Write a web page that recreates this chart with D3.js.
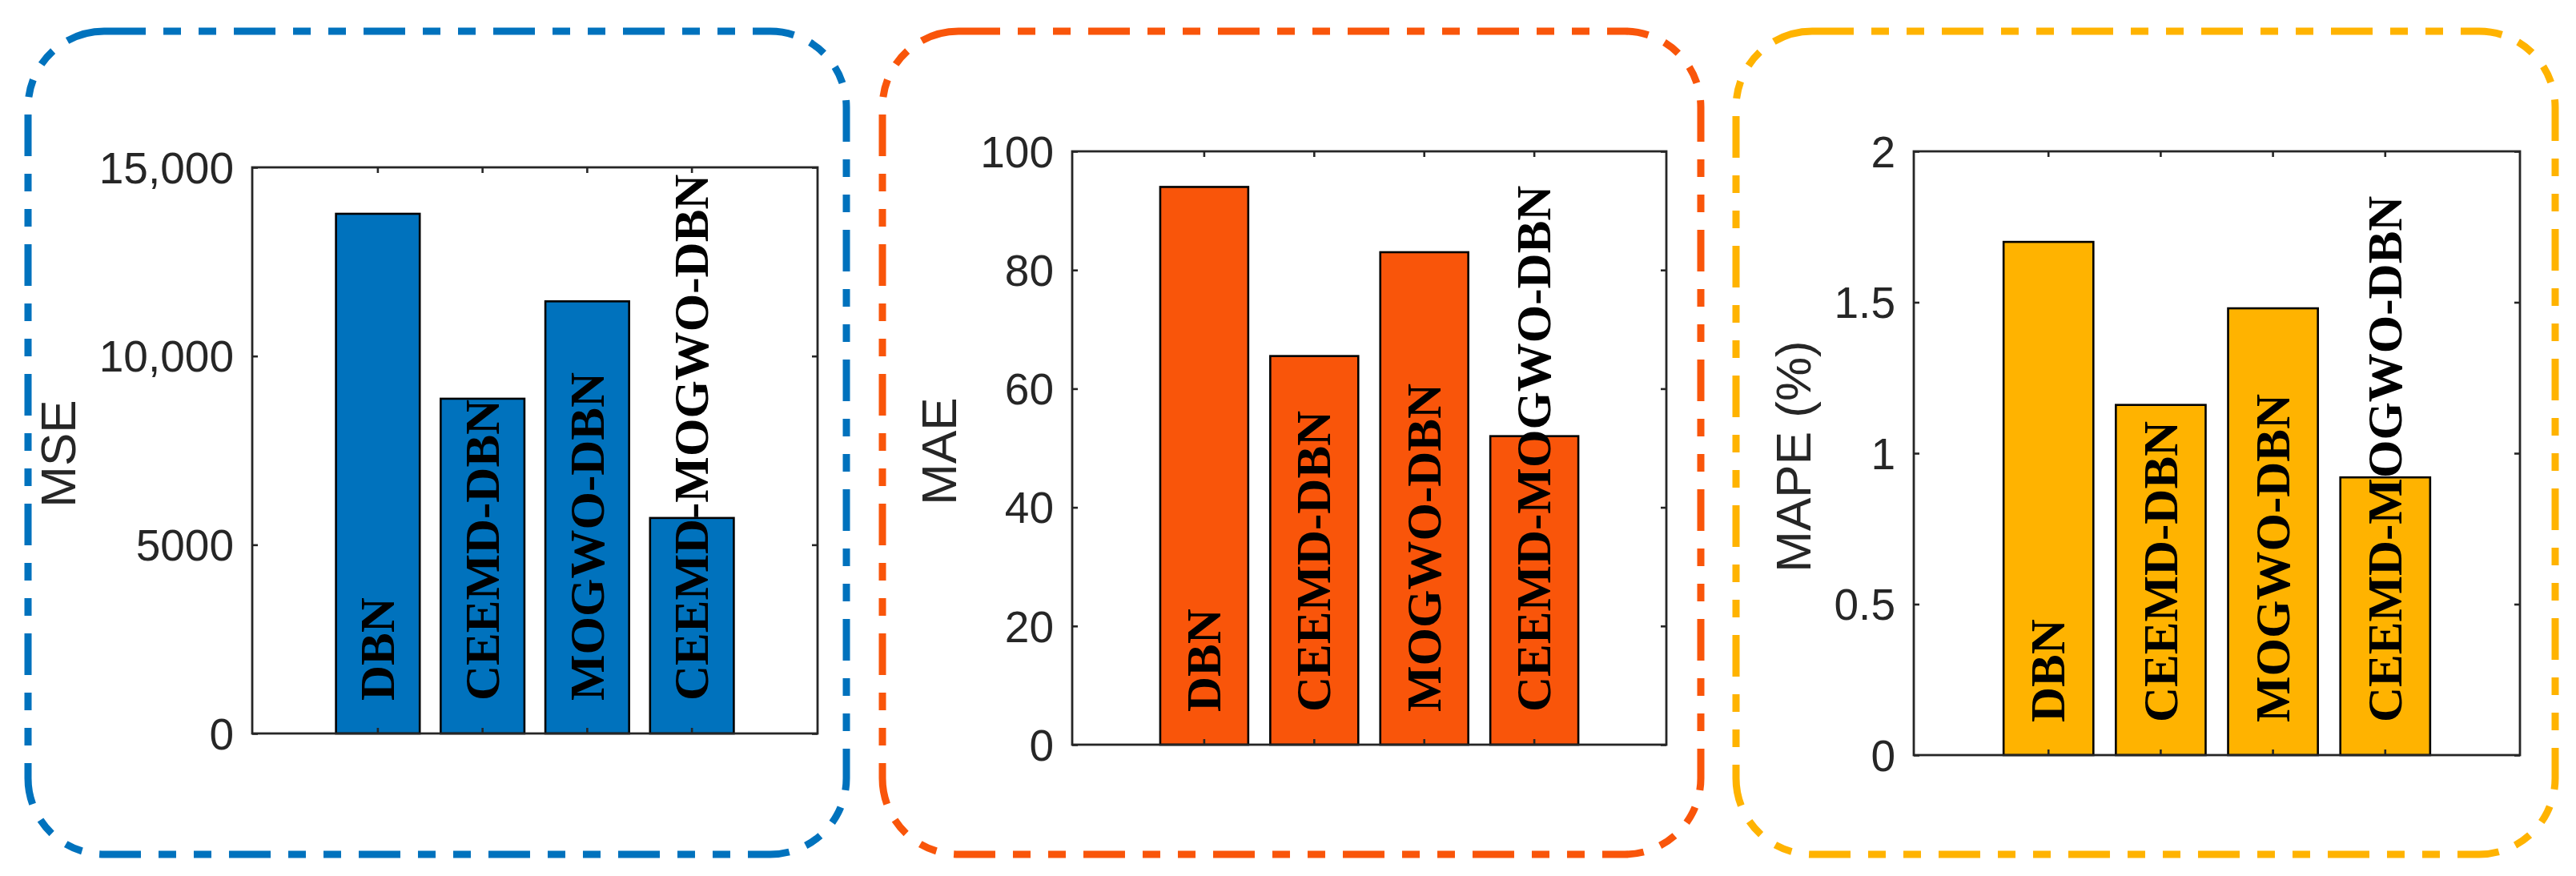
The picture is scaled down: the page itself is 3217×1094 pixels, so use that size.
<!DOCTYPE html>
<html lang="en">
<head>
  <meta charset="UTF-8">
  <title>MSE / MAE / MAPE comparison</title>
  <script src="https://d3js.org/d3.v7.min.js"></script>
  <style>
    body {
      margin: 0;
      background: #fff;
    }
  </style>
</head>
<body>
  <div id="chart"></div>

  <script>
    // data
    const categories = ["DBN", "CEEMD-DBN", "MOGWO-DBN", "CEEMD-MOGWO-DBN"];

    const mseValues = [13770, 8870, 11450, 5710];
    const maeValues = [94, 65.5, 83, 52];
    const mapeValues = [1.70, 1.16, 1.48, 0.92];

    const mseTicks = [0, 5000, 10000, 15000];
    const mseTickLabels = ["0", "5000", "10,000", "15,000"];
    const maeTicks = [0, 20, 40, 60, 80, 100];
    const maeTickLabels = ["0", "20", "40", "60", "80", "100"];
    const mapeTicks = [0, 0.5, 1, 1.5, 2];
    const mapeTickLabels = ["0", "0.5", "1", "1.5", "2"];

    const width = 3217;
    const height = 1094;

    const sansFont = '"Liberation Sans", Arial, Helvetica, sans-serif';
    const serifFont = '"Liberation Serif", "Times New Roman", serif';

    const panels = [
      {
        title: "MSE", values: mseValues, ticks: mseTicks, tickLabels: mseTickLabels,
        yMax: 15000, color: "#0072BD",
        box: { x: 35, y: 39, w: 1022, h: 1028 },
        plot: { left: 315, top: 209, right: 1021, bottom: 916 }
      },
      {
        title: "MAE", values: maeValues, ticks: maeTicks, tickLabels: maeTickLabels,
        yMax: 100, color: "#F9550A",
        box: { x: 1102, y: 39, w: 1022, h: 1028 },
        plot: { left: 1339, top: 189, right: 2081, bottom: 930 }
      },
      {
        title: "MAPE (%)", values: mapeValues, ticks: mapeTicks, tickLabels: mapeTickLabels,
        yMax: 2, color: "#FFB300",
        box: { x: 2168, y: 39, w: 1023, h: 1028 },
        plot: { left: 2390, top: 189, right: 3147, bottom: 943 }
      }
    ];

    const svg = d3.select("#chart").append("svg")
      .attr("width", width)
      .attr("height", height)
      .style("display", "block");

    svg.append("rect")
      .attr("width", width)
      .attr("height", height)
      .attr("fill", "#fff");

    const axisColor = "#262626";
    const tickLen = 7;

    panels.forEach(p => {
      const g = svg.append("g");

      // dash-dot rounded frame
      g.append("rect")
        .attr("x", p.box.x)
        .attr("y", p.box.y)
        .attr("width", p.box.w)
        .attr("height", p.box.h)
        .attr("rx", 95)
        .attr("ry", 95)
        .attr("fill", "none")
        .attr("stroke", p.color)
        .attr("stroke-width", 9)
        .attr("stroke-dasharray", "52 22 22 22 22 22");

      const x = d3.scaleBand()
        .domain(categories)
        .range([p.plot.left, p.plot.right])
        .paddingInner(0.2)
        .paddingOuter(0.8);

      const y = d3.scaleLinear()
        .domain([0, p.yMax])
        .range([p.plot.bottom, p.plot.top]);

      // bars
      g.selectAll(".bar")
        .data(p.values)
        .enter()
        .append("rect")
        .attr("class", "bar")
        .attr("x", (d, i) => x(categories[i]))
        .attr("y", d => y(d))
        .attr("width", x.bandwidth())
        .attr("height", d => y(0) - y(d))
        .attr("fill", p.color)
        .attr("stroke", "#000")
        .attr("stroke-width", 2.6);

      // axes box with inward ticks on all sides (matlab look)
      const left = d3.axisRight(y).tickValues(p.ticks).tickSize(tickLen).tickFormat("");
      const right = d3.axisLeft(y).tickValues(p.ticks).tickSize(tickLen).tickFormat("");
      const bottom = d3.axisTop(x).tickSize(tickLen).tickFormat("");
      const top = d3.axisBottom(x).tickSize(tickLen).tickFormat("");

      const axes = [
        g.append("g").attr("transform", `translate(${p.plot.left},0)`).call(left),
        g.append("g").attr("transform", `translate(${p.plot.right},0)`).call(right),
        g.append("g").attr("transform", `translate(0,${p.plot.bottom})`).call(bottom),
        g.append("g").attr("transform", `translate(0,${p.plot.top})`).call(top)
      ];
      axes.forEach(a => {
        a.select(".domain").remove();
        a.selectAll("line").attr("stroke", axisColor).attr("stroke-width", 2.6);
      });

      g.append("rect")
        .attr("x", p.plot.left)
        .attr("y", p.plot.top)
        .attr("width", p.plot.right - p.plot.left)
        .attr("height", p.plot.bottom - p.plot.top)
        .attr("fill", "none")
        .attr("stroke", axisColor)
        .attr("stroke-width", 2.8);

      // y tick labels
      const labels = g.append("g");
      labels.selectAll("text")
        .data(p.ticks)
        .enter()
        .append("text")
        .style("font-family", sansFont)
        .style("font-size", "55px")
        .attr("fill", axisColor)
        .attr("x", p.plot.left - 23)
        .attr("y", d => y(d))
        .attr("dy", "0.36em")
        .attr("text-anchor", "end")
        .text((d, i) => p.tickLabels[i]);

      // y title sits left of the widest tick label
      const lb = labels.node().getBBox();
      const cy = (p.plot.top + p.plot.bottom) / 2 + 4;
      g.append("text")
        .style("font-family", sansFont)
        .style("font-size", "62px")
        .attr("fill", axisColor)
        .attr("transform", `translate(${lb.x - 30},${cy}) rotate(-90)`)
        .attr("text-anchor", "middle")
        .text(p.title);

      // category names written up the bars
      const base = p.plot.bottom - 41;
      g.selectAll(".bar-label")
        .data(categories)
        .enter()
        .append("text")
        .attr("class", "bar-label")
        .style("font-family", serifFont)
        .style("font-weight", "bold")
        .style("font-size", "61px")
        .attr("fill", "#000")
        .attr("transform", d => `translate(${x(d) + x.bandwidth() / 2},${base}) rotate(-90)`)
        .attr("dy", "0.33em")
        .attr("text-anchor", "start")
        .text(d => d);
    });
  </script>
</body>
</html>
